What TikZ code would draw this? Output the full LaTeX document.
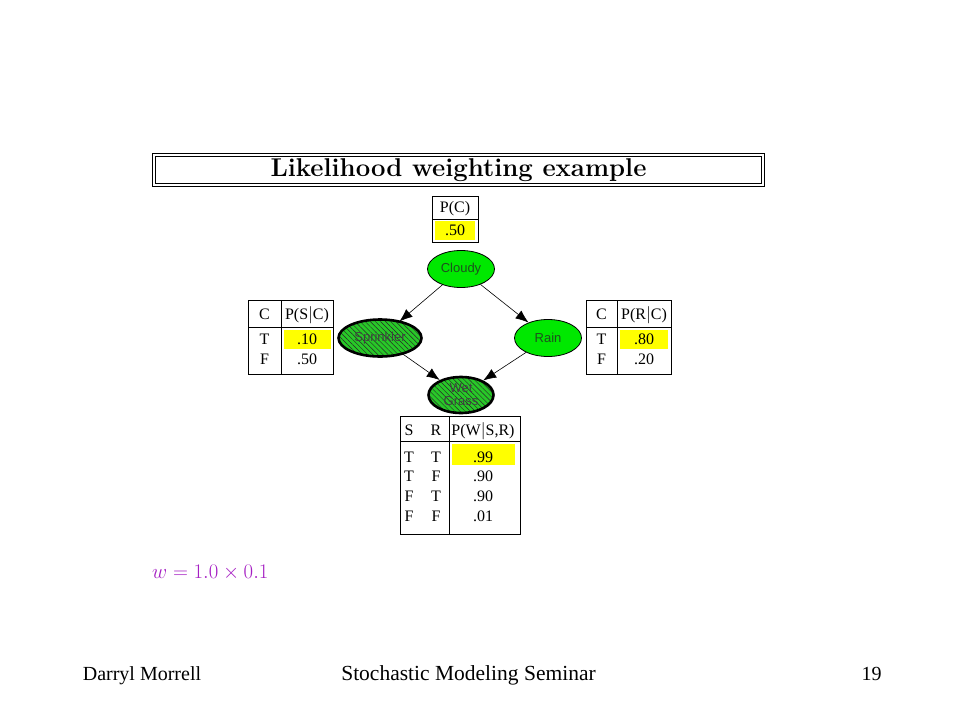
\documentclass[tikz,border=0pt]{standalone}
\usepackage{amsmath}
\usepackage{fontspec}
\usepackage{tikz}
\usetikzlibrary{shapes,arrows.meta,patterns.meta}
\newfontfamily\tabfont{Liberation Serif}
\newfontfamily\nodefont{Liberation Sans}
\definecolor{nodegreen}{RGB}{0,232,0}
\definecolor{hatchgreen}{RGB}{40,200,40}
\definecolor{cptyellow}{RGB}{255,255,0}
\definecolor{labelgreen}{RGB}{30,80,30}
\definecolor{wpurple}{RGB}{165,30,195}
\tikzset{chance/.style={
    ellipse, draw=black, fill=nodegreen, inner sep=0pt, line width=0.8pt,
    minimum width=67pt, minimum height=37pt, align=center,
    font=\nodefont\fontsize{13}{13}\selectfont, text=labelgreen},
  evidence/.style={
    chance, line width=2.6pt, preaction={fill=hatchgreen},
    pattern={Lines[angle=-45, distance=3.6pt, line width=0.45pt]},
    pattern color=black!85, text=black!75},
  link/.style={-{Latex[length=13pt,width=10pt]}, line width=0.6pt},
  cell/.style={font=\tabfont\fontsize{16}{16}\selectfont,
    inner sep=0pt, text height=10.5pt, text depth=0pt},
  cpt/.style={draw=black, line width=0.8pt},
  hilite/.style={fill=cptyellow},
  titlebox/.style={draw=black, double, line width=0.8pt, double distance=2.4pt,
    minimum width=609pt, minimum height=30pt, inner sep=0pt,
    font=\fontsize{25.7}{30}\selectfont\bfseries},
  footer/.style={font=\tabfont\fontsize{20}{24}\selectfont, inner sep=0pt, anchor=base}}

\begin{document}
\begin{tikzpicture}[x=1pt,y=-1pt]
\useasboundingbox[fill=white] (0,0) rectangle (960,720);
	\coordinate (C) at (461,269);
\coordinate (S) at (380,338);
\coordinate (R) at (548,338);
\coordinate (W) at (461,395);

\node[titlebox] (title) at (458.5,170) {Likelihood weighting example};

\fill[hilite] (435,221) rectangle (475,240);
\draw[cpt] (432,196) rectangle (478,242);
\draw[cpt] (432,219) -- (478,219);
\node[cell] (pc) at (455,207.5) {P(C)};
\node[cell] (pct) at (455,230.5) {.50};

\fill[hilite] (284,330) rectangle (331,349);
\draw[cpt] (248,300) rectangle (333,374);
\draw[cpt] (281,300) -- (281,374);
\draw[cpt] (248,327) -- (333,327);
\node[cell] (sc) at (264.5,314.5) {C};
\node[cell] (sp) at (307,314.5) {P(S$|$C)};
\node[cell] (sct) at (264.5,339.5) {T};
\node[cell] (scf) at (264.5,359.5) {F};
\node[cell] (spt) at (307,339.5) {.10};
\node[cell] (spf) at (307,359.5) {.50};

\fill[hilite] (620,330) rectangle (668,349);
\draw[cpt] (586,300) rectangle (671,374);
\draw[cpt] (617,300) -- (617,374);
\draw[cpt] (586,327) -- (671,327);
\node[cell] (rc) at (601.5,314.5) {C};
\node[cell] (rp) at (644,314.5) {P(R$|$C)};
\node[cell] (rct) at (601.5,339.5) {T};
\node[cell] (rcf) at (601.5,359.5) {F};
\node[cell] (rpt) at (644,339.5) {.80};
\node[cell] (rpf) at (644,359.5) {.20};

\fill[hilite] (452,444) rectangle (515,465);
\draw[cpt] (400,416) rectangle (520,534);
\draw[cpt] (449,416) -- (449,534);
\draw[cpt] (400,441) -- (520,441);
\node[cell] (ws) at (409,430.5) {S};
\node[cell] (wr) at (436,430.5) {R};
\node[cell] (wp) at (483,430.5) {P(W$|$S,R)};
\foreach \s/\r/\p/\y in {T/T/.99/457, T/F/.90/476.5, F/T/.90/496, F/F/.01/516}{
  \node[cell] (ws\y) at (409,\y) {\s};
  \node[cell] (wr\y) at (436,\y) {\r};
  \node[cell] (wp\y) at (483,\y) {\p};
}

\node[chance, minimum width=67pt, minimum height=37pt] (cloudy) at (C) {Cloudy};
\node[evidence, minimum width=83pt, minimum height=37pt] (sprinkler) at (S) {Sprinkler};
\node[chance, minimum width=67pt, minimum height=37pt] (rain) at (R) {Rain};
\node[evidence, minimum width=65pt, minimum height=36pt] (wet) at (W) {Wet\\Grass};

\draw[link] (cloudy) -- (sprinkler);
\draw[link] (cloudy) -- (rain);
\draw[link] (sprinkler) -- (wet);
\draw[link] (rain) -- (wet);

\node[anchor=base west, inner sep=0pt, text=wpurple, font=\fontsize{21}{24}\selectfont]
  (weight) at (152,578) {$w = 1.0\times 0.1$};

\node[footer] (author) at (142,680.5) {Darryl Morrell};
\node[footer, font=\tabfont\fontsize{21.5}{24}\selectfont] (seminar) at (468.5,680.5) {Stochastic Modeling Seminar};
\node[footer] (page) at (871.5,680.5) {19};
\end{tikzpicture}
\end{document}
